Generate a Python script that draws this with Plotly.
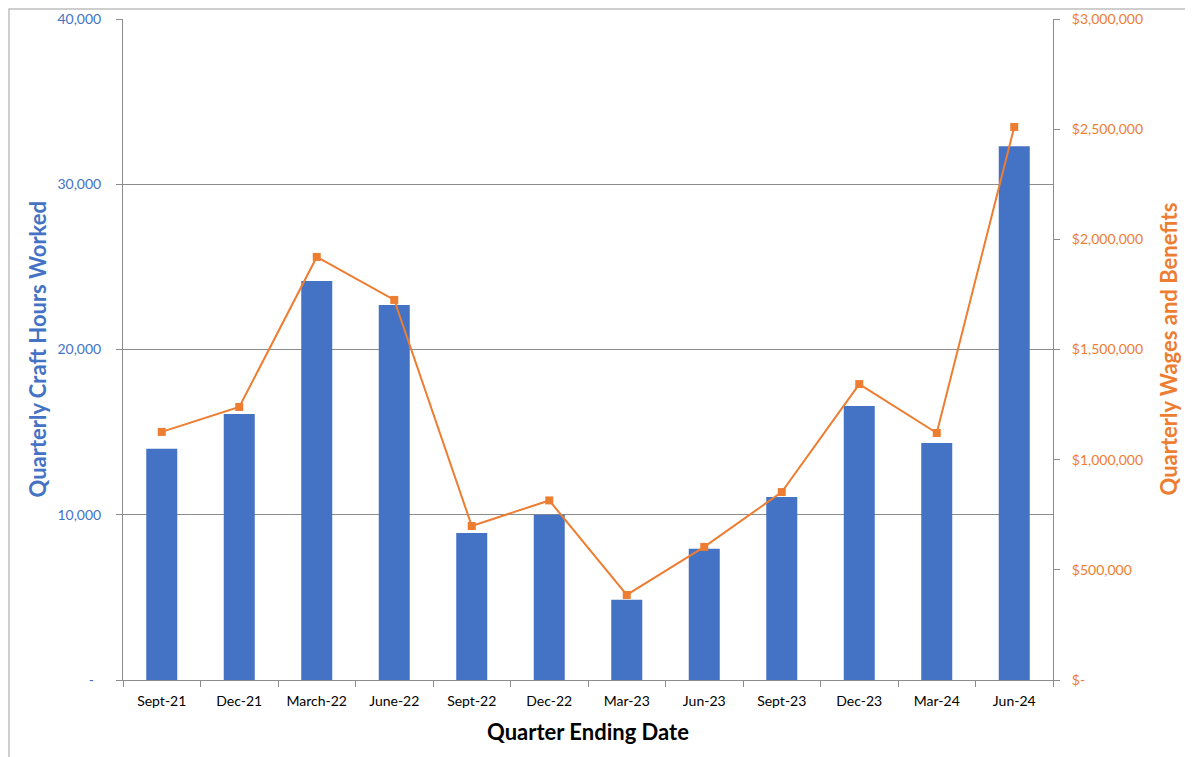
import plotly.graph_objects as go

quarters = ["Sept-21", "Dec-21", "March-22", "June-22", "Sept-22", "Dec-22",
            "Mar-23", "Jun-23", "Sept-23", "Dec-23", "Mar-24", "Jun-24"]
craft_hours = [14000, 16100, 24150, 22700, 8900, 10000,
               4850, 7950, 11070, 16580, 14340, 32300]
wages = [1126000, 1239000, 1920000, 1725000, 699000, 815000,
         386000, 604000, 853000, 1343000, 1121000, 2510000]

left_ticks = [0, 10000, 20000, 30000, 40000]
left_text = ["-\u00a0\u00a0", "10,000", "20,000", "30,000", "40,000"]
right_ticks = [0, 500000, 1000000, 1500000, 2000000, 2500000, 3000000]
right_text = ["$-", "$500,000", "$1,000,000", "$1,500,000", "$2,000,000", "$2,500,000", "$3,000,000"]

BLUE = "#4472C4"
ORANGE = "#ED7D31"
AXIS = "#8c8c8c"
FONT = "Lato"

# the page body adds an 8px offset; the figure is sized to the remaining window
OFF = 8
W, H = 1193 - OFF, 757 - OFF
L, R, T, B = 123 - OFF, 140, 19 - OFF, 77
PW, PH = W - L - R, H - T - B


def py(y_page):
    """page pixel row -> paper y coordinate"""
    return 1 - (y_page - OFF - T) / PH


def px(x_page):
    """page pixel column -> paper x coordinate"""
    return (x_page - OFF - L) / PW


fig = go.Figure()
fig.add_trace(go.Bar(x=quarters, y=craft_hours, marker=dict(color=BLUE, line=dict(width=0)),
                     name="Craft Hours", yaxis="y"))
fig.add_trace(go.Scatter(x=quarters, y=wages, mode="lines+markers", yaxis="y2",
                         line=dict(color=ORANGE, width=2),
                         marker=dict(symbol="square", size=8, color=ORANGE),
                         name="Wages"))

fig.update_layout(
    width=W, height=H,
    margin=dict(l=L, r=R, t=T, b=B, autoexpand=False),
    paper_bgcolor="white", plot_bgcolor="white",
    showlegend=False,
    bargap=0.6,
    font=dict(family=FONT, size=14, color="#000000"),
    xaxis=dict(
        type="category", range=[-0.5, len(quarters) - 0.5], automargin=False,
        tickson="boundaries", ticks="outside", ticklen=6, ticklabelstandoff=8,
        tickcolor=AXIS, showline=True, linecolor=AXIS, linewidth=1,
        showgrid=False, tickfont=dict(size=14, color="#000000", family=FONT),
    ),
    yaxis=dict(
        range=[0, 40000], tickvals=left_ticks, ticktext=left_text, automargin=False,
        ticks="outside", ticklen=6, tickcolor=AXIS, ticklabelstandoff=12,
        showline=True, linecolor=AXIS, linewidth=1,
        showgrid=True, gridcolor=AXIS, gridwidth=1, zeroline=False,
        tickfont=dict(size=14, color=BLUE, family=FONT),
    ),
    yaxis2=dict(
        range=[0, 3000000], tickvals=right_ticks, ticktext=right_text, automargin=False,
        overlaying="y", side="right",
        ticks="outside", ticklen=6, tickcolor=AXIS, ticklabelstandoff=9,
        showline=True, linecolor=AXIS, linewidth=1,
        showgrid=False, zeroline=False,
        tickfont=dict(size=14, color=ORANGE, family=FONT),
    ),
    annotations=[
        dict(text="<b>Quarter Ending Date</b>", xref="paper", yref="paper",
             x=0.5, y=py(731), xanchor="center", yanchor="middle",
             showarrow=False, font=dict(size=22, color="#000000", family=FONT)),
        dict(text="<b>Quarterly Craft Hours Worked</b>", xref="paper", yref="paper",
             x=px(37), y=0.5, xanchor="center", yanchor="middle", textangle=-90,
             showarrow=False, font=dict(size=22, color=BLUE, family=FONT)),
        dict(text="<b>Quarterly Wages and Benefits</b>", xref="paper", yref="paper",
             x=px(1168), y=0.5, xanchor="center", yanchor="middle", textangle=-90,
             showarrow=False, font=dict(size=22, color=ORANGE, family=FONT)),
    ],
    # outer chart frame (only the left and top edges fall inside the window)
    shapes=[dict(type="rect", xref="paper", yref="paper",
                 x0=px(OFF + 1), x1=1.3, y0=-0.3, y1=py(OFF + 1),
                 line=dict(color="#bfbfbf", width=1.5), fillcolor="rgba(0,0,0,0)", layer="above")],
)

fig.write_html("out.html")
